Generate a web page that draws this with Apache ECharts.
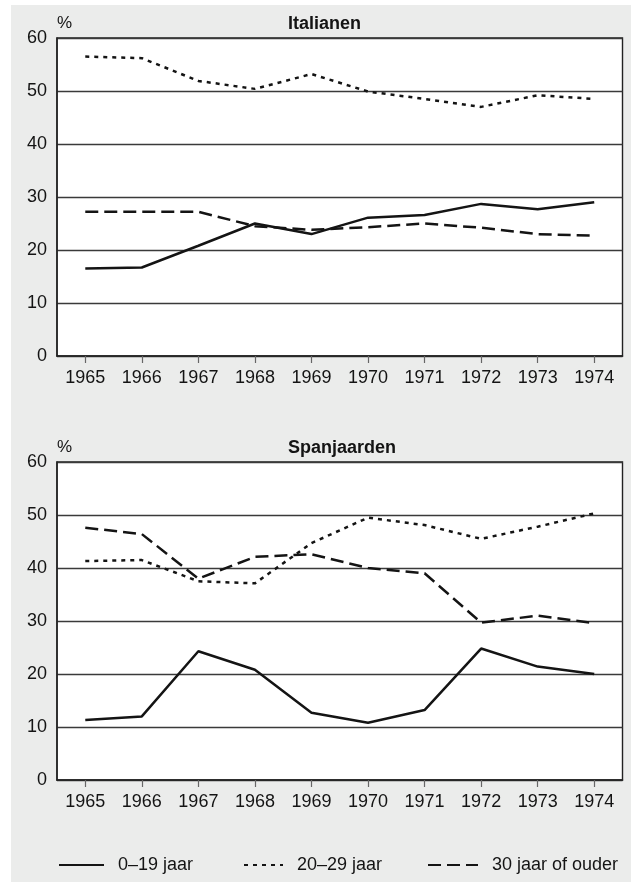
<!DOCTYPE html>
<html>
<head>
<meta charset="utf-8">
<script src="https://cdn.jsdelivr.net/npm/echarts@6/dist/echarts.min.js"></script>
<style>
  html, body { margin: 0; padding: 0; background: #fff; }
  #chart { width: 631px; height: 884px; }
</style>
</head>
<body>
<div id="chart"></div>
<script>
const years = ["1965", "1966", "1967", "1968", "1969", "1970", "1971", "1972", "1973", "1974"];
const yTicks = [0, 10, 20, 30, 40, 50, 60];
const seriesNames = ["0\u201319 jaar", "20\u201329 jaar", "30 jaar of ouder"];
const panelTitles = ["Italianen", "Spanjaarden"];

// Italianen
const itYoung = [16.5, 16.7, 20.8, 25.0, 23.0, 26.1, 26.6, 28.7, 27.7, 29.0];
const itMid = [56.5, 56.2, 51.9, 50.4, 53.2, 49.9, 48.5, 47.0, 49.2, 48.5];
const itOld = [27.2, 27.2, 27.2, 24.5, 23.8, 24.3, 25.0, 24.2, 23.0, 22.7];

// Spanjaarden
const esYoung = [11.3, 12.0, 24.3, 20.8, 12.7, 10.8, 13.2, 24.8, 21.4, 20.0];
const esMid = [41.3, 41.5, 37.5, 37.1, 44.7, 49.5, 48.1, 45.5, 47.8, 50.3];
const esOld = [47.6, 46.4, 38.0, 42.1, 42.6, 40.0, 39.0, 29.7, 31.0, 29.6];

const FONT = '"Liberation Sans", Arial, Helvetica, sans-serif';
const INK = "#141414";
const lineTypes = ["solid", [4, 5], [13, 6]];

function gridBox(top) {
  return {
    left: 57, right: 8.5, top: top, height: 318,
    show: true, backgroundColor: "#fff",
    borderColor: "#222", borderWidth: 1.4,
  };
}

function xAxisFor(idx) {
  return {
    type: "category", gridIndex: idx, data: years, boundaryGap: true,
    axisLine: { lineStyle: { color: "#222", width: 1.5 } },
    axisTick: { show: true, alignWithLabel: true, length: 7, lineStyle: { color: "#666", width: 1.2 } },
    axisLabel: { color: INK, fontFamily: FONT, fontSize: 18, margin: 13 },
  };
}

function yAxisFor(idx) {
  return {
    type: "value", gridIndex: idx, min: yTicks[0], max: yTicks[yTicks.length - 1], interval: 10,
    axisLine: { show: true, lineStyle: { color: "#222", width: 1.5 } },
    axisTick: { show: false },
    axisLabel: { color: INK, fontFamily: FONT, fontSize: 18, margin: 10 },
    splitLine: { lineStyle: { color: "#3a3a3a", width: 1.3 } },
  };
}

function lineSeries(name, data, idx, type) {
  return {
    name: name, type: "line", xAxisIndex: idx, yAxisIndex: idx, data: data,
    symbol: "none", smooth: false, silent: true,
    lineStyle: { color: INK, width: 2.5, type: type },
    itemStyle: { color: INK },
  };
}

function legendAt(name, left, width) {
  return {
    data: [name], left: left, top: 856, itemWidth: width, itemHeight: 14,
    padding: 0, selectedMode: false,
    itemStyle: { opacity: 0 },
    textStyle: { color: INK, fontFamily: FONT, fontSize: 18, padding: [0, 0, 0, 9] },
  };
}

const titleStyle = { color: INK, fontFamily: FONT, fontSize: 18, fontWeight: "bold" };
const pctStyle = { color: INK, fontFamily: FONT, fontSize: 17, fontWeight: "normal" };

const chart = echarts.init(document.getElementById("chart"));
chart.setOption({
  animation: false,
  backgroundColor: "#fff",
  graphic: [{
    type: "rect", z: -10, silent: true,
    shape: { x: 11, y: 5, width: 620, height: 877 },
    style: { fill: "#ebeceb" },
  }],
  title: [
    { text: "%", left: 57, top: 15, padding: 0, textStyle: pctStyle },
    { text: panelTitles[0], left: 288, top: 15, padding: 0, textStyle: titleStyle },
    { text: "%", left: 57, top: 439, padding: 0, textStyle: pctStyle },
    { text: panelTitles[1], left: 288, top: 439, padding: 0, textStyle: titleStyle },
  ],
  legend: [
    legendAt(seriesNames[0], 58, 45),
    legendAt(seriesNames[1], 243, 39),
    legendAt(seriesNames[2], 427, 50),
  ],
  grid: [gridBox(38), gridBox(462)],
  xAxis: [xAxisFor(0), xAxisFor(1)],
  yAxis: [yAxisFor(0), yAxisFor(1)],
  series: [
    lineSeries(seriesNames[0], itYoung, 0, lineTypes[0]),
    lineSeries(seriesNames[1], itMid, 0, lineTypes[1]),
    lineSeries(seriesNames[2], itOld, 0, lineTypes[2]),
    lineSeries(seriesNames[0], esYoung, 1, lineTypes[0]),
    lineSeries(seriesNames[1], esMid, 1, lineTypes[1]),
    lineSeries(seriesNames[2], esOld, 1, lineTypes[2]),
  ],
});
window.addEventListener("resize", () => chart.resize());
</script>
</body>
</html>
